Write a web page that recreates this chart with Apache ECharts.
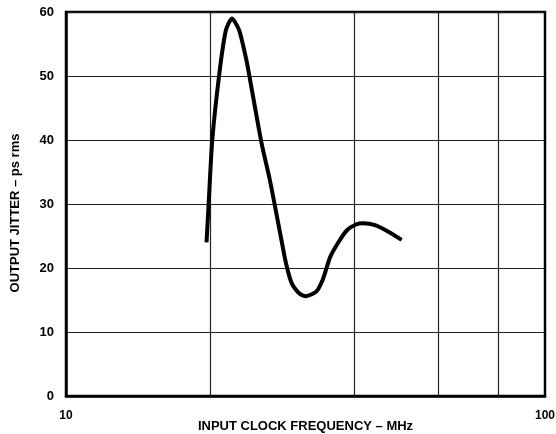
<!DOCTYPE html>
<html><head><meta charset="utf-8">
<script src="https://cdn.jsdelivr.net/npm/echarts@6/dist/echarts.min.js"></script>
<style>html,body{margin:0;padding:0;background:#fff}#c{width:556px;height:434px}</style>
</head><body><div id="c"></div>
<script>
// Input clock frequency (MHz)
var freq = [19.65, 19.85, 20.2, 20.9, 21.56, 22.2, 23.0, 23.8, 24.2, 25.6, 26.6, 27.35, 28.1, 28.8, 29.6, 30.7, 31.7, 33.3, 34.4, 35.6, 37.1, 38.6, 40.3, 41.7, 44.2, 47.3, 50.2];
// Output jitter (ps rms)
var jitter = [24, 30, 40, 50.4, 57.1, 59, 57.1, 52.5, 49.6, 39.5, 34, 29.4, 24.8, 20.7, 17.6, 16.0, 15.6, 16.3, 18.3, 21.7, 24.1, 25.9, 26.8, 27.0, 26.7, 25.6, 24.4];
var xGridValues = [20, 40, 60, 80];
var xLabels = [10, 100];
var yTicks = [0, 10, 20, 30, 40, 50, 60];

var font = 'Liberation Sans, Arial, sans-serif';
var chart = echarts.init(document.getElementById('c'));
chart.setOption({
  animation: false,
  backgroundColor: '#fff',
  grid: {left: 66, right: 11, top: 12, bottom: 38, show: true, borderColor: '#000', borderWidth: 2.5,
    containLabel: false, outerBoundsMode: 'none'},
  xAxis: {
    type: 'log', logBase: 10, min: 10, max: 100,
    name: 'INPUT CLOCK FREQUENCY \u2013 MHz', nameLocation: 'middle', nameGap: 24, nameMoveOverlap: false,
    nameTextStyle: {fontFamily: font, fontWeight: 'bold', fontSize: 13, color: '#000'},
    axisLine: {show: true, lineStyle: {color: '#000', width: 2.5}},
    axisTick: {show: false},
    splitLine: {show: false},
    axisLabel: {fontFamily: font, fontWeight: 'bold', fontSize: 12, color: '#000', margin: 14,
      formatter: function (v) { return xLabels.indexOf(Math.round(v)) >= 0 ? String(Math.round(v)) : ''; }}
  },
  yAxis: {
    type: 'value', min: 0, max: 60, interval: 10,
    name: 'OUTPUT JITTER \u2013 ps rms', nameLocation: 'middle', nameGap: 44, nameRotate: 90, nameMoveOverlap: false,
    nameTextStyle: {fontFamily: font, fontWeight: 'bold', fontSize: 13, color: '#000', padding: [0, 18, 0, 0]},
    axisLine: {show: true, lineStyle: {color: '#000', width: 2.5}},
    axisTick: {show: false},
    splitLine: {show: true, lineStyle: {color: '#222', width: 1.2}},
    axisLabel: {fontFamily: font, fontWeight: 'bold', fontSize: 13, color: '#000', margin: 12,
      formatter: function (v) { return yTicks.indexOf(v) >= 0 ? String(v) : ''; }}
  },
  series: [
    {
      type: 'line', data: freq.map(function (f, i) { return [f, jitter[i]]; }),
      smooth: 0.22, showSymbol: false, symbol: 'none',
      lineStyle: {color: '#000', width: 4, cap: 'butt', join: 'miter'},
      markLine: {
        silent: true, symbol: 'none', label: {show: false},
        lineStyle: {color: '#222', width: 1.2, type: 'solid'},
        data: xGridValues.map(function (v) { return {xAxis: v}; })
      },
      z: 5
    }
  ]
});
</script></body></html>
